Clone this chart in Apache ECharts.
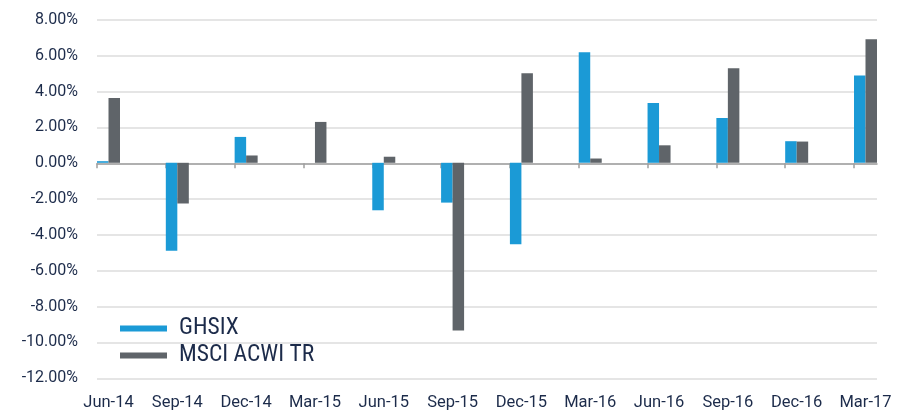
<!DOCTYPE html>
<html>
<head>
<meta charset="utf-8">
<script src="https://cdn.jsdelivr.net/npm/echarts@6/dist/echarts.min.js"></script>
<style>
html,body{margin:0;padding:0;background:#fff;}
#chart{width:905px;height:411px;}
</style>
</head>
<body>
<div id="chart"></div>
<script>
const categories = ['Jun-14','Sep-14','Dec-14','Mar-15','Jun-15','Sep-15','Dec-15','Mar-16','Jun-16','Sep-16','Dec-16','Mar-17'];
const ghsix = [0.09, -4.93, 1.45, 0, -2.66, -2.23, -4.56, 6.20, 3.35, 2.51, 1.21, 4.89];
const msci  = [3.63, -2.28, 0.41, 2.29, 0.34, -9.40, 5.02, 0.24, 0.98, 5.30, 1.19, 6.92];
const yMin = -12, yMax = 8, yStep = 2;

const NARROW = '"Liberation Sans Narrow", "Roboto Condensed", "DejaVu Sans Condensed", sans-serif';
const LABEL = 'Roboto, "Liberation Sans", sans-serif';
const TEXT = '#1c2b4a';

const chart = echarts.init(document.getElementById('chart'), null, {renderer: 'canvas'});
chart.setOption({
  animation: false,
  backgroundColor: '#ffffff',
  grid: [
    {left: 108.5, right: 39.5, top: 20, bottom: 32.7},
    {left: 97, right: 28, top: 20, bottom: 32.7}
  ],
  legend: {
    orient: 'vertical',
    left: 115,
    top: 310,
    itemWidth: 47,
    itemHeight: 6,
    itemGap: 0,
    icon: 'rect',
    data: ['GHSIX', 'MSCI ACWI TR'],
    textStyle: {fontFamily: NARROW, fontSize: 23.5, color: TEXT, lineHeight: 27, padding: [0, 0, 0, 7]}
  },
  xAxis: [
    {
      gridIndex: 0, type: 'category', data: categories, boundaryGap: false,
      position: 'bottom',
      axisLine: {show: false, onZero: false}, axisTick: {show: false},
      splitLine: {show: false},
      axisLabel: {fontFamily: LABEL, fontSize: 16.5, color: TEXT, margin: 17, interval: 0}
    },
    {
      gridIndex: 1, type: 'value', min: 0, max: 780 / 68.82, interval: 1,
      axisLine: {show: true, onZero: true, lineStyle: {color: '#9e9e9e', width: 1.5}},
      axisTick: {show: true, length: 5, customValues: categories.map((_, i) => i), lineStyle: {color: '#9e9e9e', width: 1.5}},
      axisLabel: {show: false},
      splitLine: {show: false}
    }
  ],
  yAxis: [
    {
      gridIndex: 0, type: 'value', min: yMin, max: yMax, interval: yStep,
      axisLine: {show: false}, axisTick: {show: false}, axisLabel: {show: false}, splitLine: {show: false}
    },
    {
      gridIndex: 1, type: 'value', min: yMin, max: yMax, interval: yStep,
      axisLine: {show: false}, axisTick: {show: false},
      axisLabel: {fontFamily: LABEL, fontSize: 16, color: TEXT, margin: 19,
        formatter: v => v.toFixed(2) + '%'},
      splitLine: {show: true, lineStyle: {color: '#dcdcdc', width: 1.5}}
    }
  ],
  series: [
    {
      name: 'GHSIX', type: 'bar', xAxisIndex: 0, yAxisIndex: 0, data: ghsix,
      barWidth: 11.5, barGap: '0%', itemStyle: {color: '#1b9ad6'}, z: 3
    },
    {
      name: 'MSCI ACWI TR', type: 'bar', xAxisIndex: 0, yAxisIndex: 0, data: msci,
      barWidth: 11.5, barGap: '0%', itemStyle: {color: '#5f6469'}, z: 3
    }
  ]
});
</script>
</body>
</html>
